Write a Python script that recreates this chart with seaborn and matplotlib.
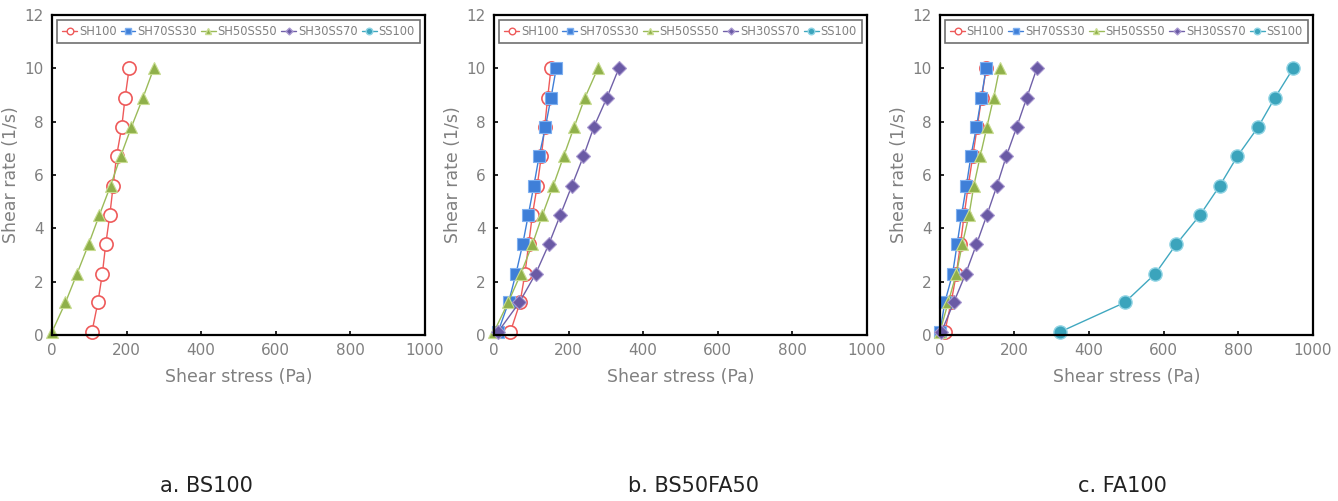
import numpy as np
import pandas as pd
import matplotlib
matplotlib.use("Agg")
import matplotlib.pyplot as plt
from matplotlib.lines import Line2D
import seaborn as sns

# shear rate steps (1/s), same for every mix
shear_rate = [0.12, 1.22, 2.3, 3.4, 4.5, 5.6, 6.7, 7.8, 8.9, 10.0]

series_names = ["SH100", "SH70SS30", "SH50SS50", "SH30SS70", "SS100"]
panel_titles = ["a. BS100", "b. BS50FA50", "c. FA100"]

# shear stress (Pa), one list per series per panel
bs100_sh100 = [107, 123, 135, 144, 155, 164, 173, 187, 196, 207]
bs100_sh50ss50 = [0, 36, 67, 98, 127, 157, 184, 213, 244, 273]

bs50_sh100 = [44, 70, 83, 93, 103, 116, 127, 136, 144, 153]
bs50_sh70ss30 = [11, 39, 59, 77, 92, 107, 121, 138, 153, 167]
bs50_sh50ss50 = [0, 38, 72, 103, 130, 159, 187, 215, 244, 279]
bs50_sh30ss70 = [11, 68, 112, 147, 178, 209, 240, 268, 303, 335]

fa100_sh100 = [13, 30, 44, 55, 65, 76, 88, 100, 112, 124]
fa100_sh70ss30 = [0, 13, 34, 46, 58, 71, 83, 98, 111, 124]
fa100_sh50ss50 = [0, 22, 44, 60, 78, 91, 108, 126, 144, 160]
fa100_sh30ss70 = [4, 37, 69, 98, 126, 153, 178, 206, 233, 260]
fa100_ss100 = [323, 496, 578, 634, 698, 751, 798, 854, 899, 948]

panels = [
    {"SH100": bs100_sh100, "SH50SS50": bs100_sh50ss50},
    {"SH100": bs50_sh100, "SH70SS30": bs50_sh70ss30,
     "SH50SS50": bs50_sh50ss50, "SH30SS70": bs50_sh30ss70},
    {"SH100": fa100_sh100, "SH70SS30": fa100_sh70ss30,
     "SH50SS50": fa100_sh50ss50, "SH30SS70": fa100_sh30ss70,
     "SS100": fa100_ss100},
]

styles = {
    "SH100": dict(color="#EE5A5A", marker="o", mfc="white", mec="#EE5A5A", ms=9.5, mew=1.2),
    "SH70SS30": dict(color="#3F7FD8", marker="s", mfc="#3F7FD8", mec="#7FB0F0", ms=8.5, mew=0.8),
    "SH50SS50": dict(color="#9BBB59", marker="^", mfc="#8FB04A", mec="#C8DC90", ms=8, mew=0.8),
    "SH30SS70": dict(color="#7060A8", marker="D", mfc="#6A5AA5", mec="#A898D0", ms=7, mew=0.8),
    "SS100": dict(color="#40A8C0", marker="o", mfc="#3BA4BC", mec="#90D4E4", ms=9.5, mew=1.0),
}

sns.set_style("ticks")
plt.rcParams["font.family"] = ["DejaVu Sans"]

fig = plt.figure(figsize=(13.38, 5.01), dpi=100)
lefts = [0.0389, 0.3692, 0.7025]
caption_x = [0.154, 0.518, 0.839]
gray = "#808080"

for i, data in enumerate(panels):
    ax = fig.add_axes([lefts[i], 0.3313, 0.2785, 0.6387])
    for name in series_names:
        if name not in data:
            continue
        st = styles[name]
        df = pd.DataFrame({"stress": data[name], "rate": shear_rate})
        sns.lineplot(data=df, x="stress", y="rate", ax=ax, sort=False,
                     color=st["color"], lw=1.0, alpha=1.0,
                     marker=st["marker"], markersize=st["ms"],
                     markerfacecolor=st["mfc"], markeredgecolor=st["mec"],
                     markeredgewidth=st["mew"])
    for ln in ax.lines:
        ln.set_clip_on(False)
    ax.set_xlim(0, 1000)
    ax.set_ylim(0, 12)
    ax.set_xticks([0, 200, 400, 600, 800, 1000])
    ax.set_yticks([0, 2, 4, 6, 8, 10, 12])
    ax.tick_params(direction="in", length=3, width=1.2, colors="black",
                   labelcolor=gray, labelsize=11, pad=6)
    for sp in ax.spines.values():
        sp.set_visible(True)
        sp.set_linewidth(1.6)
        sp.set_color("black")
    ax.set_xlabel("Shear stress (Pa)", color=gray, fontsize=12.5, labelpad=7)
    ax.set_ylabel("Shear rate (1/s)", color=gray, fontsize=12.5, labelpad=3)

    handles = []
    for name in series_names:
        st = styles[name]
        handles.append(Line2D([0], [0], color=st["color"], lw=1.0,
                              marker=st["marker"], markersize=st["ms"] * 0.5,
                              markerfacecolor=st["mfc"], markeredgecolor=st["mec"]))
    leg = ax.legend(handles, series_names, loc="upper center",
                    bbox_to_anchor=(0.5, 0.985),
                    ncol=5, fontsize=8.3, handlelength=1.3, handletextpad=0.15,
                    columnspacing=0.35, borderaxespad=0, borderpad=0.45,
                    fancybox=False, framealpha=1, edgecolor="#707070")
    leg.get_frame().set_linewidth(1.2)
    for t in leg.get_texts():
        t.set_color(gray)

    fig.text(caption_x[i], 0.03, panel_titles[i],
             ha="center", va="center", fontsize=15, color="#222222")

fig.savefig("out.png", dpi=100)
